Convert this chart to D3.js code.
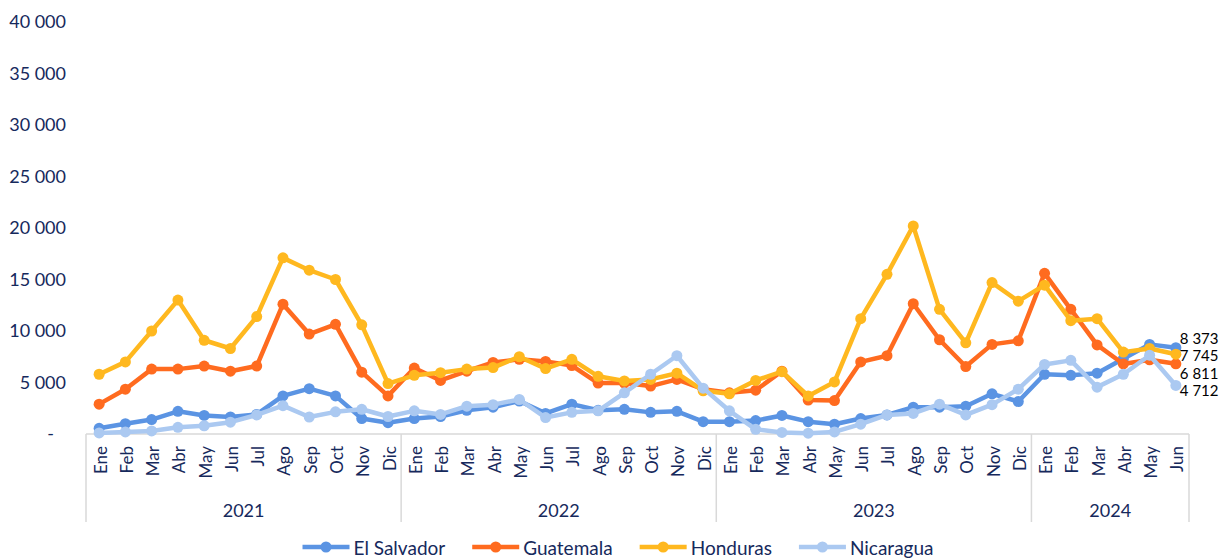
<!DOCTYPE html>
<html>
<head>
<meta charset="utf-8">
<script src="https://cdn.jsdelivr.net/npm/d3@7"></script>
<style>
  body { margin: 0; background: #fff; }
  svg { display: block; font-family: Lato, "Open Sans", sans-serif; }
</style>
</head>
<body>
<div class="chart"></div>
<script>
// months / years of the category axis
const months = ["Ene", "Feb", "Mar", "Abr", "May", "Jun", "Jul", "Ago", "Sep", "Oct", "Nov", "Dic"];
const years = ["2021", "2022", "2023", "2024"];
const monthsPerYear = [12, 12, 12, 6];

// series values
const elSalvador = [550, 1000, 1400, 2200, 1800, 1650, 1900, 3700, 4400, 3700, 1500, 1100,
    1500, 1700, 2300, 2600, 3200, 2000, 2900, 2300, 2400, 2100, 2200, 1200,
    1200, 1300, 1800, 1200, 950, 1500, 1850, 2600, 2600, 2700, 3900, 3150,
    5800, 5700, 5900, 7300, 8700, 8373];
const guatemala = [2900, 4350, 6300, 6300, 6600, 6100, 6600, 12600, 9700, 10650, 6000, 3700,
    6400, 5200, 6100, 6950, 7250, 7050, 6650, 4950, 4950, 4650, 5300, 4350,
    4000, 4250, 6100, 3300, 3250, 7000, 7600, 12650, 9150, 6550, 8700, 9050,
    15600, 12100, 8650, 6800, 7200, 6811];
const honduras = [5800, 7000, 10000, 13000, 9100, 8300, 11400, 17100, 15900, 15000, 10600, 4900,
    5700, 5950, 6300, 6450, 7500, 6350, 7250, 5600, 5150, 5300, 5900, 4200,
    3900, 5200, 6050, 3700, 5050, 11200, 15500, 20200, 12100, 8850, 14700, 12900,
    14450, 11000, 11200, 7950, 8300, 7745];
const nicaragua = [100, 200, 300, 650, 800, 1150, 1850, 2750, 1650, 2150, 2400, 1700,
    2250, 1900, 2700, 2850, 3350, 1600, 2100, 2250, 4000, 5800, 7600, 4450,
    2250, 450, 150, 80, 200, 950, 1850, 2000, 2900, 1850, 2850, 4350,
    6750, 7150, 4550, 5800, 7650, 4712];

const seriesNames = ["El Salvador", "Guatemala", "Honduras", "Nicaragua"];
const seriesValues = [elSalvador, guatemala, honduras, nicaragua];
const seriesColors = ["#5b94e3", "#ff6b1f", "#ffb81f", "#abc9f1"];
const yTicks = [0, 5000, 10000, 15000, 20000, 25000, 30000, 35000, 40000];

const width = 1231, height = 558;
const textColor = "#16295c";
const axisColor = "#d9d9d9";

const svg = d3.select(".chart").append("svg")
    .attr("width", width)
    .attr("height", height);

// flat list of category index -> month label
const categories = [];
years.forEach((yr, yi) => {
    for (let m = 0; m < monthsPerYear[yi]; m++) categories.push({year: yr, month: months[m]});
});

const x = d3.scaleBand()
    .domain(d3.range(categories.length))
    .range([86, 1189])
    .paddingInner(0);
const y = d3.scaleLinear().domain([0, 40000]).range([434, 22]);
const cx = i => x(i) + x.bandwidth() / 2;

// y axis (labels only)
const fmt = d => d === 0 ? "-" : d3.format(",")(d).replace(",", " ");
const yAxis = svg.append("g")
    .attr("transform", "translate(66,0)")
    .call(d3.axisLeft(y).tickValues(yTicks).tickSize(0).tickPadding(0).tickFormat(fmt));
yAxis.select(".domain").remove();
yAxis.selectAll("text")
    .attr("fill", textColor)
    .style("font-size", "18px")
    .style("font-family", "Lato, sans-serif")
    .attr("dx", d => d === 0 ? -12 : 0);

// category axis box
const xAxis = svg.append("g");
xAxis.append("line")
    .attr("x1", x.range()[0]).attr("x2", x.range()[1])
    .attr("y1", y(0)).attr("y2", y(0))
    .attr("stroke", axisColor).attr("stroke-width", 1.5);

let start = 0;
const bounds = [0];
monthsPerYear.forEach(n => { start += n; bounds.push(start); });
xAxis.selectAll("line.div")
    .data(bounds)
    .enter().append("line")
    .attr("class", "div")
    .attr("x1", i => i < categories.length ? x(i) : x.range()[1])
    .attr("x2", i => i < categories.length ? x(i) : x.range()[1])
    .attr("y1", y(0)).attr("y2", 522)
    .attr("stroke", axisColor).attr("stroke-width", 1.5);

xAxis.selectAll("text.month")
    .data(categories)
    .enter().append("text")
    .attr("class", "month")
    .attr("transform", (d, i) => `translate(${cx(i) + 1},446) rotate(-90)`)
    .attr("text-anchor", "end")
    .attr("dominant-baseline", "central")
    .attr("fill", textColor)
    .style("font-size", "17px")
    .text(d => d.month);

xAxis.selectAll("text.year")
    .data(years)
    .enter().append("text")
    .attr("class", "year")
    .attr("x", (d, i) => {
        const a = x(bounds[i]);
        const b = bounds[i + 1] < categories.length ? x(bounds[i + 1]) : x.range()[1];
        return (a + b) / 2;
    })
    .attr("y", 510)
    .attr("text-anchor", "middle")
    .attr("dominant-baseline", "central")
    .attr("fill", textColor)
    .style("font-size", "18px")
    .text(d => d);

// lines and markers
const line = d3.line()
    .x((d, i) => cx(i))
    .y(d => y(d));

seriesValues.forEach((vals, s) => {
    const g = svg.append("g");
    g.append("path")
        .datum(vals)
        .attr("d", line)
        .attr("fill", "none")
        .attr("stroke", seriesColors[s])
        .attr("stroke-width", 4.5)
        .attr("stroke-linejoin", "round");
    g.selectAll("circle")
        .data(vals)
        .enter().append("circle")
        .attr("cx", (d, i) => cx(i))
        .attr("cy", d => y(d))
        .attr("r", 5.5)
        .attr("fill", seriesColors[s]);
});

// last value labels, nudged apart so they don't collide
const last = categories.length - 1;
const labels = seriesValues.map(v => ({value: v[last], y: y(v[last])}))
    .sort((a, b) => a.y - b.y);
const minGap = 17.5;
for (let iter = 0; iter < 50; iter++) {
    for (let i = 1; i < labels.length; i++) {
        const overlap = minGap - (labels[i].y - labels[i - 1].y);
        if (overlap > 0) {
            labels[i - 1].y -= overlap / 2;
            labels[i].y += overlap / 2;
        }
    }
}
svg.selectAll("text.lastlabel")
    .data(labels)
    .enter().append("text")
    .attr("class", "lastlabel")
    .attr("x", cx(last) + 4)
    .attr("y", d => d.y + 1)
    .attr("dominant-baseline", "central")
    .attr("fill", "#000")
    .style("font-size", "15px")
    .text(d => fmt(d.value));

// legend
const legend = svg.append("g");
let lx = 0;
seriesNames.forEach((name, s) => {
    const item = legend.append("g").attr("transform", `translate(${lx},0)`);
    item.append("line")
        .attr("x1", 0).attr("x2", 47)
        .attr("y1", 0).attr("y2", 0)
        .attr("stroke", seriesColors[s]).attr("stroke-width", 4.5);
    item.append("circle")
        .attr("cx", 23.5).attr("cy", 0).attr("r", 5.5)
        .attr("fill", seriesColors[s]);
    const t = item.append("text")
        .attr("x", 51).attr("y", 0)
        .attr("dominant-baseline", "central")
        .attr("fill", textColor)
        .style("font-size", "19px")
        .text(name);
    lx += 51 + t.node().getComputedTextLength() + 27;
});
lx -= 27;
legend.attr("transform", `translate(${618 - lx / 2},547)`);
</script>
</body>
</html>
